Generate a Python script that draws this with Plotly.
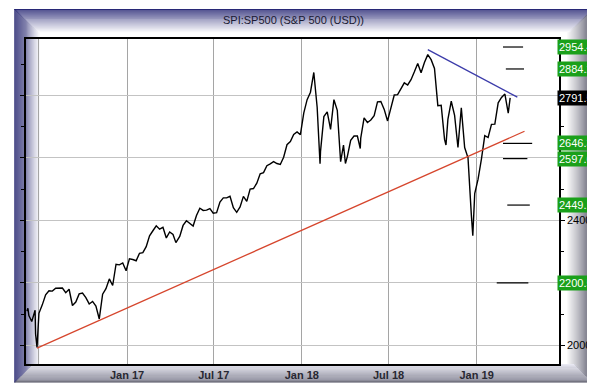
import plotly.graph_objects as go

# ---------------- data ----------------
dates_2016 = ["2016-06-06", "2016-06-08", "2016-06-10", "2016-06-16", "2016-06-23", "2016-06-24",
              "2016-06-27", "2016-07-01", "2016-07-08", "2016-07-15", "2016-07-22", "2016-07-29",
              "2016-08-05", "2016-08-12", "2016-08-19", "2016-08-26", "2016-09-02", "2016-09-09",
              "2016-09-16", "2016-09-23", "2016-09-30", "2016-10-07", "2016-10-14", "2016-10-21",
              "2016-10-28", "2016-11-04", "2016-11-11", "2016-11-18", "2016-11-25", "2016-12-02",
              "2016-12-09", "2016-12-16", "2016-12-23", "2016-12-30"]
close_2016 = [2110, 2119, 2096, 2077, 2113, 2037,
              1994, 2103, 2130, 2162, 2175, 2174,
              2183, 2184, 2184, 2169, 2180, 2128,
              2139, 2165, 2168, 2153, 2133, 2141,
              2126, 2085, 2164, 2182, 2213, 2192,
              2260, 2258, 2264, 2239]

dates_2017 = ["2017-01-06", "2017-01-13", "2017-01-20", "2017-01-27", "2017-02-03", "2017-02-10",
              "2017-02-17", "2017-02-24", "2017-03-03", "2017-03-10", "2017-03-17", "2017-03-24",
              "2017-03-31", "2017-04-07", "2017-04-13", "2017-04-21", "2017-04-28", "2017-05-05",
              "2017-05-12", "2017-05-19", "2017-05-26", "2017-06-02", "2017-06-09", "2017-06-16",
              "2017-06-23", "2017-06-30", "2017-07-07", "2017-07-14", "2017-07-21", "2017-07-28",
              "2017-08-04", "2017-08-11", "2017-08-18", "2017-08-25", "2017-09-01", "2017-09-08",
              "2017-09-15", "2017-09-22", "2017-09-29", "2017-10-06", "2017-10-13", "2017-10-20",
              "2017-10-27", "2017-11-03", "2017-11-10", "2017-11-17", "2017-11-24", "2017-12-01",
              "2017-12-08", "2017-12-15", "2017-12-22", "2017-12-29"]
close_2017 = [2277, 2275, 2271, 2295, 2297, 2316,
              2351, 2367, 2383, 2372, 2378, 2344,
              2363, 2355, 2329, 2349, 2384, 2399,
              2391, 2382, 2416, 2439, 2432, 2433,
              2438, 2423, 2425, 2459, 2472, 2472,
              2477, 2441, 2426, 2443, 2477, 2461,
              2500, 2502, 2519, 2549, 2553, 2575,
              2581, 2588, 2582, 2579, 2602, 2642,
              2652, 2675, 2683, 2674]

dates_2018 = ["2018-01-05", "2018-01-12", "2018-01-19", "2018-01-26", "2018-02-02", "2018-02-05",
              "2018-02-08", "2018-02-09", "2018-02-16", "2018-02-23", "2018-03-02", "2018-03-09",
              "2018-03-16", "2018-03-23", "2018-03-29", "2018-04-02", "2018-04-06", "2018-04-13",
              "2018-04-20", "2018-04-27", "2018-05-03", "2018-05-04", "2018-05-11", "2018-05-18",
              "2018-05-25", "2018-06-01", "2018-06-08", "2018-06-15", "2018-06-22", "2018-06-29",
              "2018-07-06", "2018-07-13", "2018-07-20", "2018-07-27", "2018-08-03", "2018-08-10",
              "2018-08-17", "2018-08-24", "2018-08-31", "2018-09-07", "2018-09-14", "2018-09-21",
              "2018-09-28", "2018-10-05", "2018-10-12", "2018-10-19", "2018-10-26", "2018-10-29",
              "2018-11-02", "2018-11-09", "2018-11-16", "2018-11-23", "2018-11-30", "2018-12-07",
              "2018-12-14", "2018-12-21", "2018-12-24", "2018-12-28"]
close_2018 = [2743, 2786, 2810, 2873, 2762, 2649,
              2581, 2620, 2732, 2747, 2691, 2786,
              2752, 2588, 2641, 2582, 2604, 2656,
              2670, 2670, 2630, 2663, 2728, 2713,
              2721, 2735, 2779, 2780, 2755, 2718,
              2760, 2801, 2802, 2819, 2840, 2833,
              2850, 2875, 2902, 2872, 2905, 2930,
              2914, 2886, 2767, 2768, 2659, 2641,
              2723, 2781, 2736, 2633, 2760, 2633,
              2600, 2417, 2351, 2486]

dates_2019 = ["2019-01-04", "2019-01-11", "2019-01-18", "2019-01-25", "2019-02-01", "2019-02-08",
              "2019-02-15", "2019-02-22", "2019-03-01", "2019-03-08", "2019-03-12"]
close_2019 = [2532, 2596, 2671, 2665, 2707, 2708,
              2776, 2793, 2804, 2743, 2791.5]

# trend lines (date, value)
red_dates = ["2016-06-27", "2019-04-11"]
red_values = [1992, 2685]
blue_dates = ["2018-09-21", "2019-03-27"]
blue_values = [2946, 2794]

# marked levels: value, short-line start, short-line end
level_values = [2954.4, 2884.2, 2646.3, 2597.6, 2449.1, 2200.5]
level_starts = ["2019-02-25", "2019-03-03", "2019-02-25", "2019-02-25", "2019-03-06", "2019-02-12"]
level_ends = ["2019-04-08", "2019-04-10", "2019-04-27", "2019-04-17", "2019-04-22", "2019-04-19"]
last_price = 2791.5

xtick_vals = ["2016-07-01", "2017-01-01", "2017-07-01", "2018-01-01", "2018-07-01", "2019-01-01"]
xtick_text = ["", "Jan 17", "Jul 17", "Jan 18", "Jul 18", "Jan 19"]
ytick_vals = [2000, 2200, 2400, 2600, 2800]
ytick_text = ["2000", "", "2400", "", ""]

title_text = "SPI:SP500 (S&P 500 (USD))"

# ---------------- layout geometry ----------------
W, H = 595, 385
L, R, T, B = 12, 35, 31, 19
pw, ph = W - L - R, H - T - B


def fx(p):
    return (p - L) / pw


def fy(p):
    return (H - B - p) / ph


def mix(c0, c1, t):
    t = max(0.0, min(1.0, t))
    return "rgb(%d,%d,%d)" % tuple(round(a + (b - a) * t) for a, b in zip(c0, c1))


WHITE = (255, 255, 255)
shapes = []
TOPW, LEFTW, BOTW, RIGHTW = 24, 26, 19, 34


def top_col(i):
    return mix((40, 40, 118), WHITE, i / TOPW)


def left_col(i):
    return mix((28, 28, 105), WHITE, i / LEFTW)


def bot_col(i):
    if i < 2:
        return "rgb(70,70,88)"
    return mix((118, 118, 136), (232, 232, 242), (i - 2) / (BOTW - 3))


def right_col(i):
    if i < 3:
        return "rgb(150,150,166)"
    if i < 7:
        return "rgb(108,108,124)"
    return mix((108, 108, 124), WHITE, (i - 7) / (RIGHTW - 14))


def rect(x0, x1, y0, y1, col):
    shapes.append(dict(type="rect", xref="paper", yref="paper", layer="below",
                       x0=fx(x0), x1=fx(x1), y0=fy(y1), y1=fy(y0),
                       fillcolor=col, line=dict(width=0)))


for i in range(max(TOPW, LEFTW, BOTW, RIGHTW)):
    if i < TOPW:
        rect(min(i, LEFTW), W - min(i, RIGHTW), i, i + 1, top_col(i))
    if i < BOTW:
        rect(min(i, LEFTW), W - min(i, RIGHTW), H - i - 1, H - i, bot_col(i))
    if i < LEFTW:
        rect(i, i + 1, min(i, TOPW), H - min(i, BOTW), left_col(i))
    if i < RIGHTW:
        rect(W - i - 1, W - i, min(i, TOPW), H - min(i, BOTW), right_col(i))

# ---------------- figure ----------------
fig = go.Figure()

all_dates = dates_2016 + dates_2017 + dates_2018 + dates_2019
all_close = close_2016 + close_2017 + close_2018 + close_2019

fig.add_trace(go.Scatter(x=all_dates, y=all_close, mode="lines",
                         line=dict(color="black", width=1.4), hoverinfo="skip"))
fig.add_trace(go.Scatter(x=red_dates, y=red_values, mode="lines",
                         line=dict(color="rgb(214,70,45)", width=1.3), hoverinfo="skip"))
fig.add_trace(go.Scatter(x=blue_dates, y=blue_values, mode="lines",
                         line=dict(color="rgb(60,60,170)", width=1.3), hoverinfo="skip"))
for v, s, e in zip(level_values, level_starts, level_ends):
    fig.add_trace(go.Scatter(x=[s, e], y=[v, v], mode="lines",
                             line=dict(color="black", width=1.2), hoverinfo="skip"))

annotations = [dict(xref="paper", yref="paper", x=fx(287), y=fy(11), text=title_text,
                    showarrow=False, xanchor="center", yanchor="middle",
                    font=dict(family="Liberation Sans, Arial", size=11, color="rgb(25,25,50)"))]
for v in level_values:
    annotations.append(dict(xref="paper", yref="y", x=1, y=v, text="%.1f" % v, showarrow=False,
                            xanchor="left", yanchor="middle", xshift=-2,
                            bgcolor="rgb(26,160,26)", borderpad=1,
                            font=dict(family="Liberation Sans, Arial", size=11, color="white")))
annotations.append(dict(xref="paper", yref="y", x=1, y=last_price, text="%.1f" % last_price,
                        showarrow=False, xanchor="left", yanchor="middle", xshift=-2,
                        bgcolor="black", borderpad=1,
                        font=dict(family="Liberation Sans, Arial", size=11, color="white")))

fig.update_layout(
    width=W, height=H,
    margin=dict(l=L, r=R, t=T, b=B, pad=0),
    paper_bgcolor="white", plot_bgcolor="rgba(0,0,0,0)",
    showlegend=False, hovermode=False,
    shapes=shapes, annotations=annotations,
    font=dict(family="Liberation Sans, Arial", size=11, color="black"),
    xaxis=dict(type="date", range=["2016-06-04", "2019-06-22"],
               tickvals=xtick_vals, ticktext=xtick_text,
               showgrid=True, gridcolor="rgb(165,165,165)", gridwidth=1,
               showline=True, linecolor="black", linewidth=1.5, mirror=True,
               ticks="", zeroline=False,
               tickfont=dict(family="Liberation Sans, Arial", size=11, color="rgb(40,40,50)",
                             weight="bold")),
    yaxis=dict(range=[1941, 2980], side="right",
               tickvals=ytick_vals, ticktext=ytick_text,
               showgrid=True, gridcolor="rgb(195,195,195)", gridwidth=1,
               showline=True, linecolor="black", linewidth=1.5, mirror="allticks",
               ticks="outside", ticklen=4, tickcolor="black", zeroline=False,
               minor=dict(dtick=100, tick0=2000, ticks="outside", ticklen=3,
                          tickcolor="black", showgrid=False),
               tickfont=dict(family="Liberation Sans, Arial", size=11, color="black")),
)

fig.write_html("out.html")
